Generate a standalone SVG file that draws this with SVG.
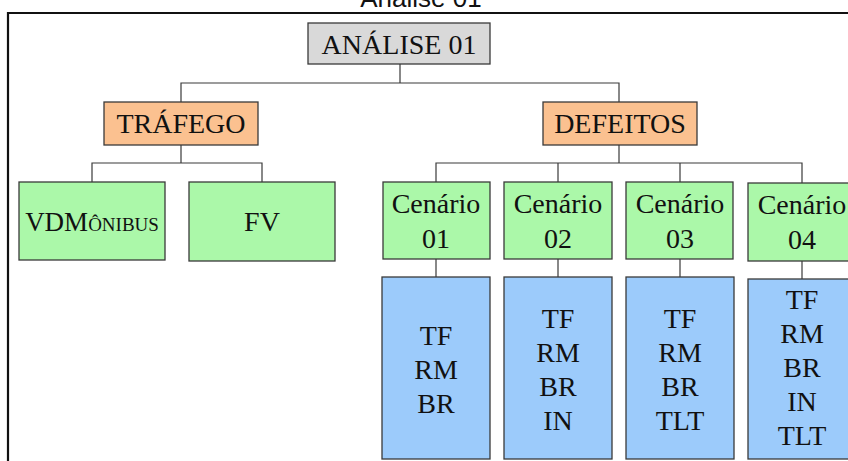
<svg xmlns="http://www.w3.org/2000/svg" width="848" height="461" viewBox="0 0 848 461">
  <style>
    .box { stroke: #3a3a3a; stroke-width: 1.3; }
    .root { fill: #d9d9d9; }
    .cat { fill: #fbc190; }
    .leaf { fill: #abf8a9; }
    .list { fill: #9ccbfb; }
    .lbl { font-family: "Liberation Serif", "Times New Roman", serif; font-size: 28px; fill: #111111; text-anchor: middle; }
    .title { font-family: "Liberation Sans", Arial, sans-serif; font-size: 26px; fill: #111; text-anchor: middle; }
    .conn { fill: none; stroke: #3a3a3a; stroke-width: 1.2; }
  </style>

  <rect x="0" y="0" width="848" height="461" fill="#ffffff"/>

  <!-- title and frame -->
  <text class="title" x="421" y="7">Análise 01</text>
  <path d="M8 461 V13 H848" fill="none" stroke="#111" stroke-width="2.2"/>

  <!-- connectors -->
  <g id="connectors" class="conn">
    <path d="M400 64 V83 M181 102 V83 H619 V102"/>
    <path d="M181 145 V163 M92 182 V163 H262 V182"/>
    <path d="M619 145 V163 M436 182 V163 H802 V183 M558 163 V182 M680 163 V182"/>
    <path d="M436 259 V277 M558 259 V277 M680 259 V277 M802 261 V279"/>
  </g>

  <g id="analise">
    <rect class="box root" x="308" y="23" width="182" height="41"/>
    <text class="lbl" x="399" y="54">ANÁLISE 01</text>
  </g>

  <g id="trafego">
    <rect class="box cat" x="104" y="102" width="154" height="43"/>
    <text class="lbl" x="181" y="133">TRÁFEGO</text>
  </g>

  <g id="defeitos">
    <rect class="box cat" x="543" y="102" width="154" height="43"/>
    <text class="lbl" x="620" y="133">DEFEITOS</text>
  </g>

  <g id="vdm">
    <rect class="box leaf" x="19" y="182" width="146" height="78"/>
    <text class="lbl" x="92" y="231" style="font-size:27px">VDM<tspan style="font-variant: small-caps">ônibus</tspan></text>
  </g>

  <g id="fv">
    <rect class="box leaf" x="189" y="182" width="146" height="79"/>
    <text class="lbl" x="262" y="231">FV</text>
  </g>

  <g id="cenario01">
    <rect class="box leaf" x="383" y="182" width="107" height="77"/>
    <text class="lbl" x="436" y="213">Cenário</text>
    <text class="lbl" x="436" y="248">01</text>
  </g>
  <g id="cenario02">
    <rect class="box leaf" x="504" y="182" width="108" height="77"/>
    <text class="lbl" x="558" y="213">Cenário</text>
    <text class="lbl" x="558" y="248">02</text>
  </g>
  <g id="cenario03">
    <rect class="box leaf" x="626" y="182" width="107" height="77"/>
    <text class="lbl" x="680" y="213">Cenário</text>
    <text class="lbl" x="680" y="248">03</text>
  </g>
  <g id="cenario04">
    <rect class="box leaf" x="748" y="183" width="108" height="78"/>
    <text class="lbl" x="802" y="214">Cenário</text>
    <text class="lbl" x="802" y="249">04</text>
  </g>

  <g id="lista01">
    <rect class="box list" x="382" y="277" width="108" height="182"/>
    <text class="lbl" x="436" y="345">TF</text>
    <text class="lbl" x="436" y="379">RM</text>
    <text class="lbl" x="436" y="413">BR</text>
  </g>
  <g id="lista02">
    <rect class="box list" x="504" y="277" width="108" height="182"/>
    <text class="lbl" x="558" y="328">TF</text>
    <text class="lbl" x="558" y="362">RM</text>
    <text class="lbl" x="558" y="396">BR</text>
    <text class="lbl" x="558" y="430">IN</text>
  </g>
  <g id="lista03">
    <rect class="box list" x="626" y="277" width="108" height="182"/>
    <text class="lbl" x="680" y="328">TF</text>
    <text class="lbl" x="680" y="362">RM</text>
    <text class="lbl" x="680" y="396">BR</text>
    <text class="lbl" x="680" y="430">TLT</text>
  </g>
  <g id="lista04">
    <rect class="box list" x="748" y="279" width="108" height="180"/>
    <text class="lbl" x="802" y="309">TF</text>
    <text class="lbl" x="802" y="343">RM</text>
    <text class="lbl" x="802" y="377">BR</text>
    <text class="lbl" x="802" y="411">IN</text>
    <text class="lbl" x="802" y="445">TLT</text>
  </g>
</svg>
